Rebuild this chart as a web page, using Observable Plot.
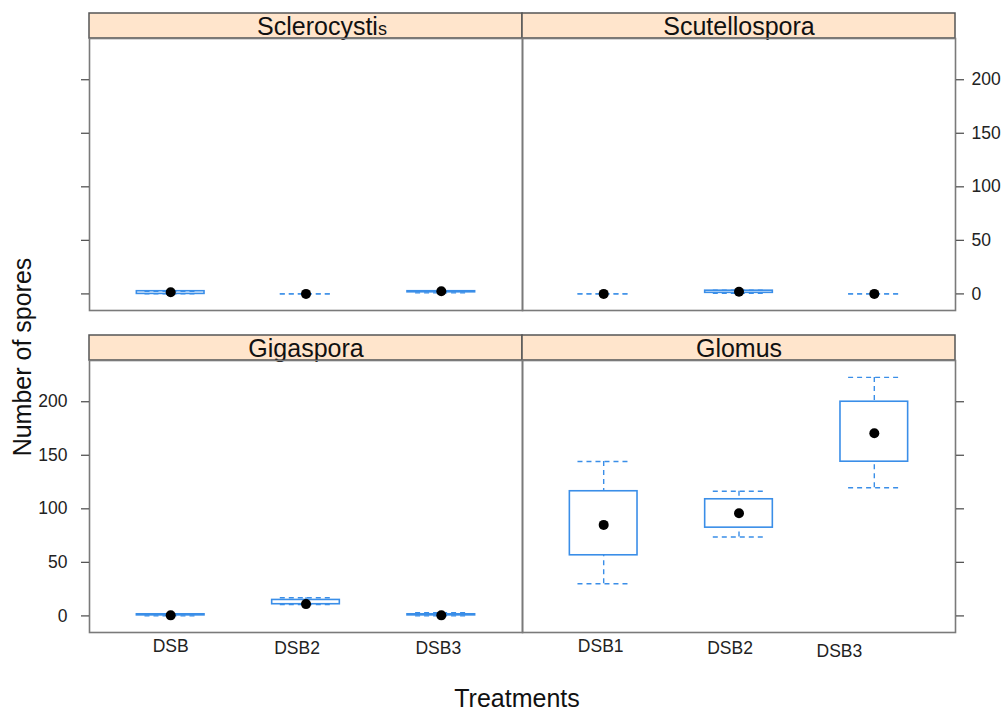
<!DOCTYPE html>
<html><head><meta charset="utf-8">
<script src="https://cdn.jsdelivr.net/npm/d3@7"></script>
<script src="https://cdn.jsdelivr.net/npm/@observablehq/plot@0.6"></script>
<style>body{margin:0;background:#fff;}</style>
</head><body><div id="chart"></div>
<script>
// ---- data ----
const genera = ["Sclerocystis", "Scutellospora", "Gigaspora", "Glomus"];
const panelCol = ["left", "right", "left", "right"];
const panelRow = ["top", "top", "bottom", "bottom"];
const treatments = ["DSB1", "DSB2", "DSB3"];
const leftTickLabels = ["DSB", "DSB2", "DSB3"];
const rightTickLabels = ["DSB1", "DSB2", "DSB3"];
const yTicks = [0, 50, 100, 150, 200];
// five-number summaries per genus (rows) and treatment (columns)
const lowerWhisker = [[0, 0, 1], [0, 0.5, 0], [0, 10.5, 0], [30, 73.7, 119.7]];
const lowerHinge   = [[0, 0, 1.5], [0, 1, 0], [0.5, 10.9, 0.5], [56.6, 82.4, 144]];
const medianVal    = [[1.5, 0, 2.5], [0, 2, 0], [0.5, 11, 0.5], [85, 95.8, 170.5]];
const upperHinge   = [[2.5, 0, 2.5], [0, 3, 0], [1.5, 14.9, 1.5], [116.4, 108.9, 200]];
const upperWhisker = [[2.5, 0, 3], [0, 3.5, 0], [1.5, 17, 3], [144.2, 116.4, 222.7]];

// ---- layout ----
const W = 1005, H = 711;
const mL = 88, mR = 50, mT = 38, mB = 79;
const panelPx = 272, gapPx = 50, stripPx = 25;
const yDom = [-15.5, 238.5];
const xDom = [0.4, 3.6];
const stripUnits = stripPx * (yDom[1] - yDom[0]) / panelPx;
const boxHalf = 0.25, capHalf = 0.19;
const labelNudgePx = {right: [-3, -9, -35], left: [0, -9, -3]};
const labelDy = {right: [19, 21, 24], left: [19, 21, 21]};
const blue = "#3a8ee8";
const font = "Liberation Sans, Arial, Helvetica, sans-serif";

// ---- tables ----
const rows = [];
genera.forEach((g, k) => treatments.forEach((t, j) => rows.push({
  genus: g, col: panelCol[k], row: panelRow[k], i: j + 1,
  lw: lowerWhisker[k][j], q1: lowerHinge[k][j], med: medianVal[k][j],
  q3: upperHinge[k][j], uw: upperWhisker[k][j]
})));
const strips = genera.map((g, k) => ({genus: g, col: panelCol[k], row: panelRow[k]}));
const step = (W - mL - mR) / 2 / (xDom[1] - xDom[0]);
const xLabels = [];
leftTickLabels.forEach((l, j) => xLabels.push({label: l, col: "left", row: "bottom", i: j + 1 + labelNudgePx.left[j] / step, dy: labelDy.left[j]}));
rightTickLabels.forEach((l, j) => xLabels.push({label: l, col: "right", row: "bottom", i: j + 1 + labelNudgePx.right[j] / step, dy: labelDy.right[j]}));
const yLabelsLeft = yTicks.map(v => ({v, col: "left", row: "bottom"}));
const yLabelsRight = yTicks.map(v => ({v, col: "right", row: "top"}));
const dyLevels = [...new Set(xLabels.map(d => d.dy))];

const fxy = {fx: "col", fy: "row"};
const chart = Plot.plot({
  width: W, height: H,
  marginLeft: mL, marginRight: mR, marginTop: mT, marginBottom: mB,
  style: {fontFamily: font, background: "white", color: "#1a1a1a", overflow: "visible"},
  fx: {domain: ["left", "right"], padding: 0, axis: null},
  fy: {domain: ["top", "bottom"], paddingInner: gapPx / (panelPx + gapPx), paddingOuter: 0, axis: null},
  x: {domain: xDom, axis: null},
  y: {domain: yDom},
  marks: [
    // strips
    Plot.rect(strips, {...fxy, x1: xDom[0], x2: xDom[1], y1: yDom[1], y2: yDom[1] + stripUnits,
      fill: "#ffe5cc", stroke: "#555", strokeWidth: 1.5}),
    Plot.text(strips, {...fxy, x: (xDom[0] + xDom[1]) / 2, y: yDom[1] + stripUnits / 2, text: "genus",
      fontSize: 25, dy: 1, fill: "#111"}),
    Plot.frame({stroke: "#7a7a7a", strokeWidth: 1.6}),
    // axes
    Plot.axisY({anchor: "left", ticks: yTicks, tickSize: 8, tickFormat: () => "", label: null, stroke: "#555", strokeWidth: 1.3}),
    Plot.axisY({anchor: "right", ticks: yTicks, tickSize: 8, tickFormat: () => "", label: null, stroke: "#555", strokeWidth: 1.3}),
    Plot.text(yLabelsLeft, {...fxy, y: "v", text: d => String(d.v), frameAnchor: "left", dx: -22, textAnchor: "end", fontSize: 17.5, fill: "#222"}),
    Plot.text(yLabelsRight, {...fxy, y: "v", text: d => String(d.v), frameAnchor: "right", dx: 16, textAnchor: "start", fontSize: 17.5, fill: "#222"}),
    ...dyLevels.map(dy => Plot.text(xLabels.filter(d => d.dy === dy), {...fxy, x: "i", text: "label", frameAnchor: "bottom", dy, fontSize: 17.5, fill: "#222"})),
    // box-and-whisker
    Plot.ruleX(rows, {...fxy, x: "i", y1: "uw", y2: "q3", stroke: blue, strokeWidth: 1.4, strokeDasharray: "5,4"}),
    Plot.ruleX(rows, {...fxy, x: "i", y1: "lw", y2: "q1", stroke: blue, strokeWidth: 1.4, strokeDasharray: "5,4"}),
    Plot.ruleY(rows, {...fxy, y: "uw", x1: d => d.i - capHalf, x2: d => d.i + capHalf, stroke: blue, strokeWidth: 1.4, strokeDasharray: "5,4"}),
    Plot.ruleY(rows, {...fxy, y: "lw", x1: d => d.i - capHalf, x2: d => d.i + capHalf, stroke: blue, strokeWidth: 1.4, strokeDasharray: "5,4"}),
    Plot.rect(rows, {...fxy, x1: d => d.i - boxHalf, x2: d => d.i + boxHalf, y1: "q1", y2: "q3", fill: "none", stroke: blue, strokeWidth: 1.6}),
    Plot.dot(rows, {...fxy, x: "i", y: "med", r: 5, fill: "black", stroke: "none"})
  ]
});

const svg = d3.select(chart);
svg.append("text").attr("transform", "translate(24,357) rotate(-90)")
  .attr("text-anchor", "middle").attr("dominant-baseline", "middle")
  .attr("font-size", 25).attr("font-family", font).attr("fill", "#111").text("Number of spores");
svg.append("text").attr("x", 517).attr("y", 707)
  .attr("text-anchor", "middle").attr("font-size", 25).attr("font-family", font).attr("fill", "#111").text("Treatments");
// the reference prints the final "s" of Sclerocystis in a smaller size, slightly right of centre
svg.selectAll("text").filter(function () { return this.textContent === "Sclerocystis"; })
  .each(function () {
    const t = d3.select(this);
    t.text("Sclerocysti").attr("dx", 16);
    t.append("tspan").attr("font-size", 18).text("s");
  });
document.getElementById("chart").appendChild(chart);
</script>
</body></html>
